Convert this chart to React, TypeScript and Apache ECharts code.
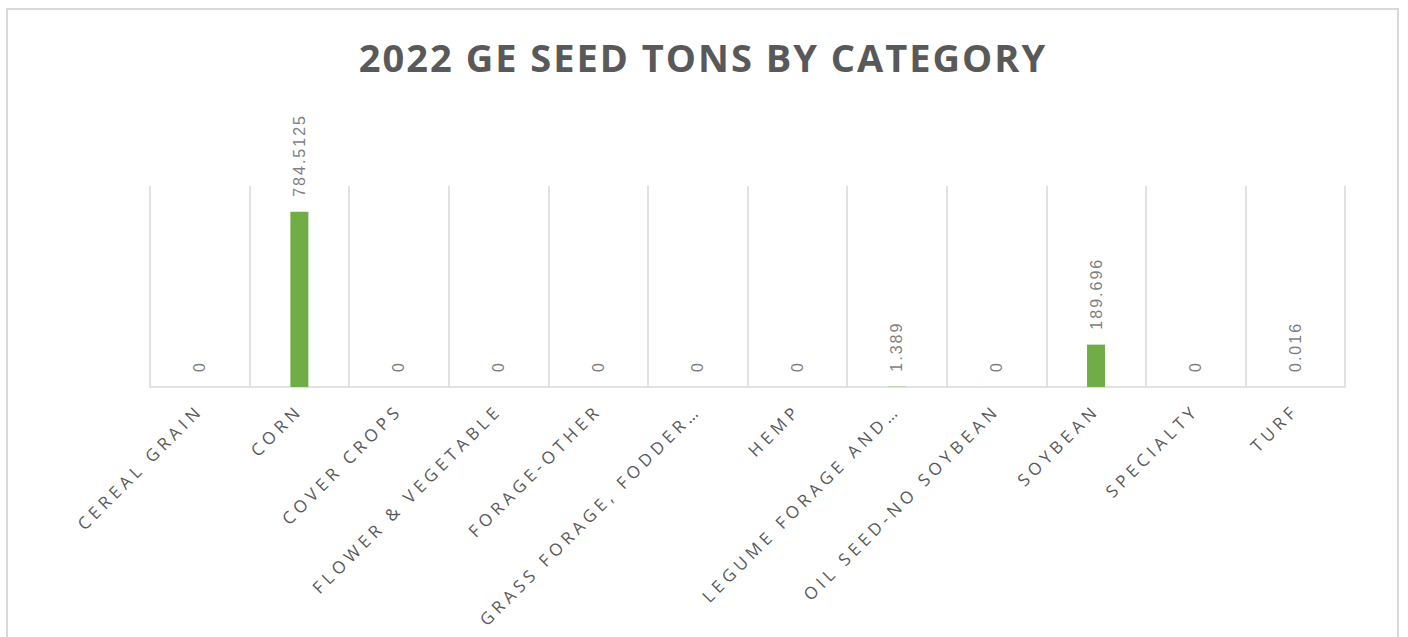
import React, { useEffect, useRef } from "react";
import * as echarts from "echarts";

const titleText = "2022 GE SEED TONS BY CATEGORY";
const categories = [
  "CEREAL GRAIN",
  "CORN",
  "COVER CROPS",
  "FLOWER & VEGETABLE",
  "FORAGE-OTHER",
  "GRASS FORAGE, FODDER…",
  "HEMP",
  "LEGUME FORAGE AND…",
  "OIL SEED-NO SOYBEAN",
  "SOYBEAN",
  "SPECIALTY",
  "TURF",
];
const tons = [0, 784.5125, 0, 0, 0, 0, 0, 1.389, 0, 189.696, 0, 0.016];
const yMax = 900;

export default function App() {
  const ref = useRef<HTMLDivElement>(null);
  useEffect(() => {
    if (!ref.current) return;
    const chart = echarts.init(ref.current, undefined, { renderer: "svg" });
    chart.setOption({
      animation: false,
      backgroundColor: "#ffffff",
      graphic: [
        {
          type: "rect",
          shape: { x: 7, y: 9, width: 1391, height: 700 },
          style: { fill: "none", stroke: "#d9d9d9", lineWidth: 2 },
          silent: true,
        },
        {
          type: "text",
          x: 703,
          y: 57,
          style: {
            text: titleText,
            fill: "#595959",
            font: "bold 38px 'Open Sans'",
            textAlign: "center",
            textVerticalAlign: "middle",
          },
        },
      ],
      grid: { left: 150, right: 63, top: 186, bottom: 250 },
      xAxis: {
        type: "category",
        data: categories,
        boundaryGap: true,
        axisLine: { show: true, lineStyle: { color: "#d9d9d9", width: 1.5 } },
        axisTick: { show: false },
        splitLine: { show: true, interval: 0, lineStyle: { color: "#d9d9d9", width: 1.5 } },
        axisLabel: {
          interval: 0,
          rotate: 45,
          margin: 20,
          color: "#595959",
          fontFamily: "Open Sans",
          fontSize: 17,
        },
      },
      yAxis: {
        type: "value",
        min: 0,
        max: yMax,
        show: false,
        splitLine: { show: false },
      },
      series: [
        {
          type: "bar",
          data: tons,
          barWidth: 18,
          itemStyle: { color: "#70ad47" },
          label: {
            show: true,
            position: "top",
            rotate: 90,
            align: "left",
            verticalAlign: "middle",
            distance: 15,
            color: "#7f7f7f",
            fontFamily: "Liberation Sans",
            fontSize: 16,
            formatter: "{c}",
          },
        },
      ],
    });
    return () => chart.dispose();
  }, []);
  return (
    <>
      <style>{`
        #chart text[style*="Open Sans"] { letter-spacing: 4.5px; }
        #chart text[style*="Open Sans"][style*="bold"] { letter-spacing: 2px; }
        #chart text[style*="Liberation Sans"] { letter-spacing: 2px; }
      `}</style>
      <div
        id="chart"
        ref={ref}
        style={{ position: "absolute", left: 0, top: 0, width: 1408, height: 637 }}
      />
    </>
  );
}
